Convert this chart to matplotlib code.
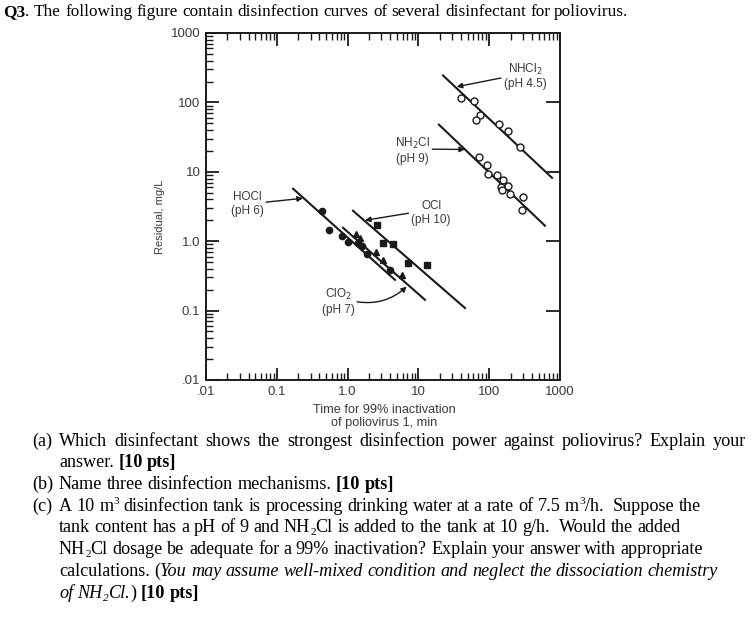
import matplotlib
matplotlib.use('Agg')
import matplotlib.pyplot as plt
from matplotlib.transforms import IdentityTransform
from matplotlib.ticker import LogLocator, NullLocator, FixedLocator, FixedFormatter, NullFormatter

# ---------------- data (time for 99% inactivation, min ; residual, mg/L) -------------
hocl_line_t = [0.170, 4.67]
hocl_line_c = [5.70, 0.277]
clo2_line_t = [0.861, 12.4]
clo2_line_c = [1.56, 0.143]
ocl_line_t = [1.19, 45.5]
ocl_line_c = [2.75, 0.109]
nh2cl_line_t = [19.5, 614]
nh2cl_line_c = [47.8, 1.67]
nhcl2_line_t = [22.3, 771]
nhcl2_line_c = [244, 8.2]

hocl_t = [0.431, 0.552, 0.826, 1.02, 1.42, 1.58, 1.90, 3.97]
hocl_c = [2.75, 1.46, 1.17, 0.99, 0.94, 0.84, 0.66, 0.39]
clo2_t = [1.31, 1.50, 2.52, 3.19, 5.81]
clo2_c = [1.28, 1.11, 0.69, 0.54, 0.33]
ocl_t = [2.58, 3.19, 4.42, 7.20, 13.1]
ocl_c = [1.72, 0.94, 0.92, 0.49, 0.46]
nhcl2_t = [40.0, 61.6, 74.1, 64.4, 139, 183, 272]
nhcl2_c = [116, 104, 65.2, 56.5, 49.0, 38.3, 22.5]
nh2cl_t = [71.8, 92.2, 97.1, 130, 155, 145, 183, 150, 197, 297, 288]
nh2cl_c = [16.4, 12.4, 9.4, 8.9, 7.5, 6.0, 6.2, 5.4, 4.8, 4.3, 2.8]

xtick_vals = [0.01, 0.1, 1, 10, 100, 1000]
xtick_labels = ['.01', '0.1', '1.0', '10', '100', '1000']
ytick_vals = [0.01, 0.1, 1, 10, 100, 1000]
ytick_labels = ['.01', '0.1', '1.0', '10', '100', '1000']
right_ticks = [0.1, 1, 10, 100]

W, H = 752, 619
fig = plt.figure(figsize=(W / 100, H / 100), dpi=100)
fig.patch.set_facecolor('white')

ink = '#1a1a1a'
gray = '#3a3a3a'
sans = ['Liberation Sans', 'DejaVu Sans']

ax = fig.add_axes([206 / W, 1 - 380 / H, 354 / W, 347 / H])
ax.set_xscale('log')
ax.set_yscale('log')
ax.set_xlim(0.01, 1000)
ax.set_ylim(0.01, 1000)
for s in ax.spines.values():
    s.set_linewidth(1.4)
    s.set_color(ink)

ax.xaxis.set_major_locator(FixedLocator(xtick_vals))
ax.xaxis.set_major_formatter(FixedFormatter(xtick_labels))
ax.yaxis.set_major_locator(FixedLocator(ytick_vals))
ax.yaxis.set_major_formatter(FixedFormatter(ytick_labels))
ax.xaxis.set_minor_locator(LogLocator(base=10, subs=range(2, 10)))
ax.yaxis.set_minor_locator(LogLocator(base=10, subs=range(2, 10)))
ax.xaxis.set_minor_formatter(NullFormatter())
ax.yaxis.set_minor_formatter(NullFormatter())
ax.tick_params(which='both', direction='in', top=True, right=False, color=ink)
ax.tick_params(which='major', length=9, width=1.3, labelsize=9.5, labelcolor=gray, pad=4)
ax.tick_params(which='minor', length=5, width=1.0)
for lab in ax.get_xticklabels() + ax.get_yticklabels():
    lab.set_family(sans)

ax2 = ax.twinx()
ax2.set_yscale('log')
ax2.set_ylim(0.01, 1000)
ax2.yaxis.set_major_locator(FixedLocator(right_ticks))
ax2.yaxis.set_minor_locator(NullLocator())
ax2.tick_params(which='major', direction='in', length=10, width=1.3, labelright=False, color=ink)
for s in ax2.spines.values():
    s.set_visible(False)

lw = 1.5
ax.plot(hocl_line_t, hocl_line_c, color=ink, lw=lw)
ax.plot(clo2_line_t, clo2_line_c, color=ink, lw=lw)
ax.plot(ocl_line_t, ocl_line_c, color=ink, lw=lw)
ax.plot(nh2cl_line_t, nh2cl_line_c, color=ink, lw=lw)
ax.plot(nhcl2_line_t, nhcl2_line_c, color=ink, lw=lw)

ax.plot(hocl_t, hocl_c, 'o', color=ink, ms=4.5, ls='none')
ax.plot(clo2_t, clo2_c, '^', color=ink, ms=4.5, ls='none')
ax.plot(ocl_t, ocl_c, 's', color=ink, ms=4.5, ls='none')
ax.plot(nhcl2_t, nhcl2_c, 'o', mfc='white', mec=ink, mew=1.0, ms=5, ls='none')
ax.plot(nh2cl_t, nh2cl_c, 'o', mfc='white', mec=ink, mew=1.0, ms=5, ls='none')

afs = 8.5
arrow = dict(arrowstyle='-|>', lw=1.0, color=ink, mutation_scale=8, shrinkA=0, shrinkB=0)
ax.annotate('NHCl$_2$\n(pH 4.5)', xy=(34.7, 168), xytext=(320, 240), ha='center', va='center',
            fontsize=afs, color=gray, family=sans, arrowprops=dict(arrow, relpos=(0.0, 0.45)))
ax.annotate('NH$_2$Cl\n(pH 9)', xy=(45.5, 21.0), xytext=(8.13, 20.2), ha='center', va='center',
            fontsize=afs, color=gray, family=sans, arrowprops=dict(arrow, relpos=(1.0, 0.55)))
ax.annotate('HOCl\n(pH 6)', xy=(0.234, 4.15), xytext=(0.0379, 3.47), ha='center', va='center',
            fontsize=afs, color=gray, family=sans, arrowprops=dict(arrow, relpos=(1.0, 0.55)))
ax.annotate('OCl\n(pH 10)', xy=(1.76, 2.0), xytext=(15.1, 2.57), ha='center', va='center',
            fontsize=afs, color=gray, family=sans, arrowprops=dict(arrow, relpos=(0.0, 0.5)))
ax.annotate('ClO$_2$\n(pH 7)', xy=(6.84, 0.222), xytext=(0.731, 0.136), ha='center', va='center',
            fontsize=afs, color=gray, family=sans,
            arrowprops=dict(arrow, relpos=(1.0, 0.5), connectionstyle='arc3,rad=0.25'))

fig.text(160 / W, 1 - 217 / H, 'Residual, mg/L', rotation=90, ha='center', va='center',
         fontsize=8, color=gray, family=sans)
fig.text(384 / W, 1 - 410 / H, 'Time for 99% inactivation', ha='center',
         va='center', fontsize=9.2, color=gray, family=sans)
fig.text(384 / W, 1 - 423 / H, 'of poliovirus 1, min', ha='center',
         va='center', fontsize=9.2, color=gray, family=sans)

# ---------------- question text ----------------
serif = 'Liberation Serif'
renderer = fig.canvas.get_renderer()


def seg_width(s, size, weight, style):
    t = fig.text(0, 0, '.' + s + '.', fontsize=size, fontweight=weight, fontstyle=style, family=serif)
    t2 = fig.text(0, 0, '..', fontsize=size, fontweight=weight, fontstyle=style, family=serif)
    w = t.get_window_extent(renderer).width - t2.get_window_extent(renderer).width
    t.remove()
    t2.remove()
    return w


def style_of(kind, fs):
    size, weight, style, dy = fs, 'normal', 'normal', 0
    if 'b' in kind:
        weight = 'bold'
    if 'i' in kind:
        style = 'italic'
    if '^' in kind:
        size, dy = fs * 0.62, fs * 0.55
    if '_' in kind:
        size, dy = fs * 0.62, -fs * 0.2
    return size, weight, style, dy


def rich(x, ytop, segs, fs, end=None):
    toks = []
    pending = 0
    for s, kind in segs:
        parts = s.split(' ')
        for i, p in enumerate(parts):
            if i > 0:
                pending += 1
            if p == '':
                continue
            toks.append((p, kind, pending))
            pending = 0
    space_w = seg_width(' ', fs, 'normal', 'normal')
    widths = []
    for p, kind, _ in toks:
        size, weight, style, dy = style_of(kind, fs)
        widths.append(seg_width(p, size, weight, style))
    natural = sum(widths) + sum(n for _, _, n in toks) * space_w
    ngaps = sum(1 for _, _, n in toks if n > 0)
    extra = 0.0
    if end is not None and ngaps > 0:
        extra = max(0.0, (end - x - natural) / ngaps)
    cx = x
    base = H - ytop
    for (p, kind, n), w in zip(toks, widths):
        if n > 0:
            cx += n * space_w + extra
        size, weight, style, dy = style_of(kind, fs)
        fig.text(cx, base + dy, p, transform=IdentityTransform(), fontsize=size, fontweight=weight,
                 fontstyle=style, family=serif, va='baseline', ha='left', color='black')
        cx += w


TFS = 12.4
QFS = 13.1
LX, TX = 32, 59
rich(3, 16, [('Q3', 'b'), ('. The following figure contain disinfection curves of several disinfectant for poliovirus.', '')],
     TFS, end=625)
rich(LX, 446, [('(a)', '')], QFS)
rich(TX, 446, [('Which disinfectant shows the strongest disinfection power against poliovirus? Explain your', '')],
     QFS, end=745)
rich(TX, 467, [('answer. ', ''), ('[10 pts]', 'b')], QFS)
rich(LX, 489, [('(b)', '')], QFS)
rich(TX, 489, [('Name three disinfection mechanisms. ', ''), ('[10 pts]', 'b')], QFS)
rich(LX, 511, [('(c)', '')], QFS)
rich(TX, 511, [('A 10 m', ''), ('3', '^'), (' disinfection tank is processing drinking water at a rate of 7.5 m', ''),
               ('3', '^'), ('/h.  Suppose the', '')], QFS, end=700)
rich(TX, 532, [('tank content has a pH of 9 and NH', ''), ('2', '_'),
               ('Cl is added to the tank at 10 g/h.  Would the added', '')], QFS, end=676)
rich(TX, 554, [('NH', ''), ('2', '_'),
               ('Cl dosage be adequate for a 99% inactivation? Explain your answer with appropriate', '')],
     QFS, end=703)
rich(TX, 576, [('calculations. (', ''),
               ('You may assume well-mixed condition and neglect the dissociation chemistry', 'i')], QFS, end=716)
rich(TX, 598, [('of NH', 'i'), ('2', 'i_'), ('Cl.', 'i'), (') ', ''), ('[10 pts]', 'b')], QFS)

fig.savefig('out.png', dpi=100, facecolor='white')
